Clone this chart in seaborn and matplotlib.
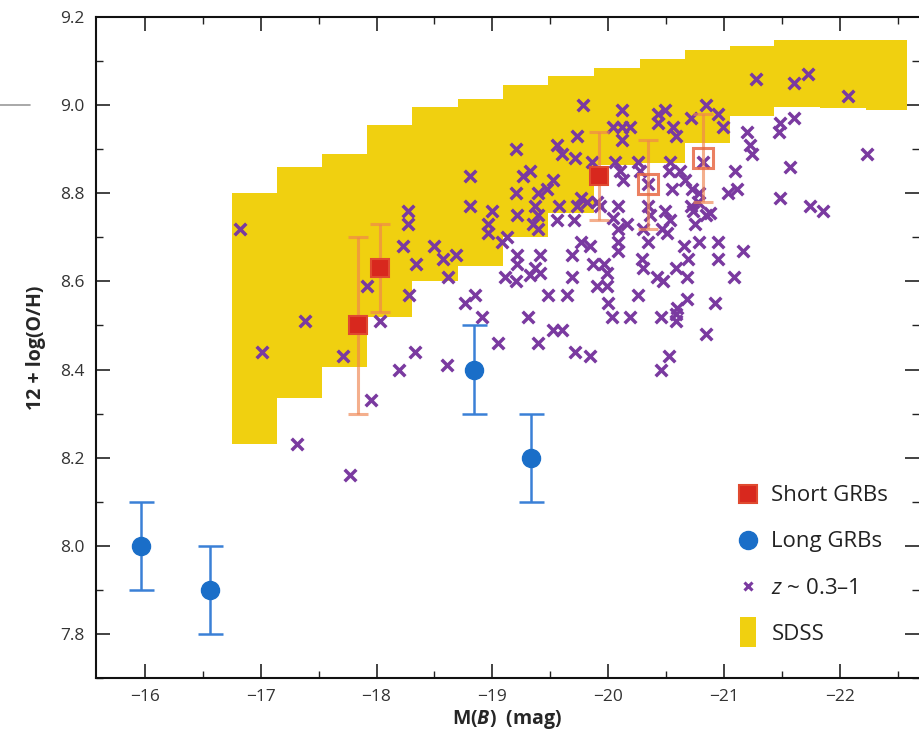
import numpy as np
import pandas as pd
import matplotlib
matplotlib.use("Agg")
import matplotlib.pyplot as plt
from matplotlib.lines import Line2D
from matplotlib.ticker import MultipleLocator, FormatStrFormatter, FuncFormatter
import seaborn as sns

# ---------------- data ----------------
# SDSS locus: step bins in M(B) with lower / upper metallicity of the band
sdss_edges = [-16.75, -17.14, -17.53, -17.92, -18.31, -18.70, -19.09, -19.48,
              -19.88, -20.27, -20.66, -21.05, -21.43, -21.83, -22.22, -22.58]
sdss_upper = [8.80, 8.86, 8.89, 8.955, 8.995, 9.015, 9.045, 9.065,
              9.085, 9.105, 9.125, 9.135, 9.148, 9.148, 9.148]
sdss_lower = [8.23, 8.335, 8.405, 8.52, 8.60, 8.635, 8.70, 8.755,
              8.865, 8.868, 8.915, 8.975, 8.995, 8.993, 8.99]

# field galaxies at z ~ 0.3-1
field_mb = [
    -16.82, -17.01, -17.31, -17.38, -17.71, -17.77, -17.92, -18.03, -17.95, -18.23,
    -18.27, -18.27, -18.28, -18.34, -18.33, -18.19, -19.78, -19.73, -19.56, -19.60,
    -19.71, -19.20, -19.86, -18.81, -19.26, -19.32, -19.52, -19.47, -19.39, -19.20,
    -18.81, -19.00, -19.21, -19.37, -19.39, -19.57, -19.73, -19.76, -19.82, -19.56,
    -19.70, -18.96, -18.96, -19.08, -19.13, -19.39, -19.35, -19.76, -19.84, -18.50,
    -18.69, -18.57, -19.21, -19.41, -19.69, -18.62, -19.21, -19.37, -19.41, -19.32,
    -19.87, -19.90, -19.11, -19.20, -19.69, -19.48, -19.64, -18.85, -18.76, -18.91,
    -19.31, -19.52, -19.60, -19.05, -19.39, -19.71, -19.84, -18.61, -20.12, -20.43,
    -20.49, -20.43, -20.71, -20.84, -20.95, -20.04, -20.12, -20.19, -20.12, -20.56,
    -20.58, -20.99, -21.20, -21.22, -21.24, -20.82, -20.06, -20.10, -20.13, -20.26,
    -20.27, -20.53, -20.52, -20.62, -20.66, -20.34, -20.55, -20.72, -20.78, -21.09,
    -21.03, -21.11, -19.90, -19.93, -20.08, -20.34, -20.36, -20.49, -20.53, -20.71,
    -20.73, -20.77, -20.84, -20.88, -20.04, -20.16, -20.08, -20.30, -20.46, -20.75,
    -20.08, -20.08, -20.34, -20.51, -20.65, -20.78, -20.95, -21.16, -20.29, -20.30,
    -19.96, -19.99, -20.69, -20.58, -20.95, -20.42, -20.47, -20.68, -21.08, -19.99,
    -20.26, -20.00, -20.68, -20.59, -20.92, -20.03, -20.19, -20.45, -20.58, -20.58,
    -20.84, -20.52, -20.45, -21.27, -21.60, -21.72, -22.07, -21.48, -21.47, -21.60,
    -21.57, -22.23, -21.48, -21.74, -21.85,
]
field_oh = [
    8.72, 8.44, 8.23, 8.51, 8.43, 8.16, 8.59, 8.51, 8.33, 8.68,
    8.76, 8.73, 8.57, 8.64, 8.44, 8.40, 9.00, 8.93, 8.91, 8.89,
    8.88, 8.90, 8.87, 8.84, 8.84, 8.85, 8.83, 8.81, 8.80, 8.80,
    8.77, 8.76, 8.75, 8.77, 8.75, 8.77, 8.77, 8.79, 8.78, 8.74,
    8.74, 8.73, 8.71, 8.69, 8.70, 8.72, 8.73, 8.69, 8.68, 8.68,
    8.66, 8.65, 8.66, 8.66, 8.66, 8.61, 8.64, 8.63, 8.62, 8.615,
    8.64, 8.59, 8.61, 8.60, 8.61, 8.57, 8.57, 8.57, 8.55, 8.52,
    8.52, 8.49, 8.49, 8.46, 8.46, 8.44, 8.43, 8.41, 8.99, 8.98,
    8.99, 8.96, 8.97, 9.00, 8.98, 8.95, 8.95, 8.95, 8.92, 8.95,
    8.93, 8.95, 8.94, 8.91, 8.89, 8.87, 8.87, 8.85, 8.83, 8.87,
    8.85, 8.87, 8.85, 8.85, 8.83, 8.82, 8.81, 8.81, 8.80, 8.85,
    8.80, 8.81, 8.78, 8.77, 8.77, 8.77, 8.75, 8.76, 8.74, 8.77,
    8.76, 8.78, 8.75, 8.755, 8.745, 8.73, 8.72, 8.72, 8.72, 8.73,
    8.69, 8.67, 8.69, 8.71, 8.68, 8.69, 8.69, 8.67, 8.65, 8.63,
    8.64, 8.62, 8.65, 8.63, 8.65, 8.61, 8.60, 8.61, 8.61, 8.59,
    8.57, 8.55, 8.56, 8.54, 8.55, 8.52, 8.52, 8.52, 8.525, 8.51,
    8.48, 8.43, 8.40, 9.06, 9.05, 9.07, 9.02, 8.96, 8.94, 8.97,
    8.86, 8.89, 8.79, 8.77, 8.76,
]

# short GRB hosts (last two drawn as open symbols)
short_mb = [-17.84, -18.03, -19.92, -20.34, -20.82]
short_oh = [8.50, 8.63, 8.84, 8.82, 8.88]
short_err = [0.20, 0.10, 0.10, 0.10, 0.10]
short_open = [False, False, False, True, True]

# long GRB hosts
long_mb = [-15.97, -16.56, -18.84, -19.33]
long_oh = [8.00, 7.90, 8.40, 8.20]
long_err = [0.10, 0.10, 0.10, 0.10]

legend_labels = ["Short GRBs", "Long GRBs", "$z$ ~ 0.3\u20131", "SDSS"]

# ---------------- style ----------------
sns.set_theme(style="ticks")
plt.rcParams["font.family"] = ["Open Sans", "DejaVu Sans"]
plt.rcParams["mathtext.fontset"] = "custom"
plt.rcParams["mathtext.rm"] = "Open Sans"
plt.rcParams["mathtext.it"] = "Open Sans:italic"
plt.rcParams["mathtext.bf"] = "Open Sans:bold"
plt.rcParams["mathtext.bfit"] = "Open Sans:bold:italic"

YELLOW = "#f0d010"
PURPLE = "#7a3aa0"
RED = "#d8281e"
BLUE = "#1a6ec8"
ORANGE = "#ef8450"

fig = plt.figure(figsize=(9.2, 7.42), dpi=100)
ax = fig.add_axes([96 / 920, 64 / 742, 823 / 920, 661 / 742])

# SDSS band
upper_ext = sdss_upper + [sdss_upper[-1]]
lower_ext = sdss_lower + [sdss_lower[-1]]
ax.fill_between(sdss_edges, lower_ext, upper_ext, step="post",
                color=YELLOW, lw=0, zorder=1)

# field galaxies
field = pd.DataFrame({"MB": field_mb, "OH": field_oh})
sns.scatterplot(data=field, x="MB", y="OH", marker="x", s=70, linewidth=2.5,
                color=PURPLE, ax=ax, legend=False, zorder=3)

# short GRB error bars + symbols
for mb, oh, er, op in zip(short_mb, short_oh, short_err, short_open):
    ax.errorbar(mb, oh, yerr=er, fmt="none", ecolor=ORANGE, alpha=0.65,
                elinewidth=2.2, capsize=7, capthick=2.2, zorder=4)
    if op:
        ax.plot(mb, oh, marker="s", ms=14, mfc="none", mec="#e86a45",
                mew=2.2, alpha=0.85, ls="none", zorder=5)
    else:
        ax.plot(mb, oh, marker="s", ms=13, mfc=RED, mec="#e04a30",
                mew=1.5, ls="none", zorder=5)

# long GRB hosts
ax.errorbar(long_mb, long_oh, yerr=long_err, fmt="o", ms=13, color=BLUE,
            ecolor="#3a80d6", elinewidth=1.8, capsize=9, capthick=1.8,
            zorder=5)

# axes
ax.set_xlim(-15.58, -22.68)
ax.set_ylim(7.7, 9.2)
ax.xaxis.set_major_locator(MultipleLocator(1))
ax.xaxis.set_minor_locator(MultipleLocator(0.5))
ax.yaxis.set_major_locator(MultipleLocator(0.2))
ax.yaxis.set_minor_locator(MultipleLocator(0.1))
ax.yaxis.set_major_formatter(FormatStrFormatter("%.1f"))
ax.xaxis.set_major_formatter(FuncFormatter(lambda v, p: f"\u2212{abs(v):.0f}"))
ax.tick_params(which="both", direction="in", top=True, right=True,
               color="#222222", labelcolor="#333333", labelsize=12.5)
ax.tick_params(which="major", length=10, width=1.2, pad=8)
ax.tick_params(which="minor", length=5, width=1.0)
for sp in ax.spines.values():
    sp.set_linewidth(1.5)
    sp.set_color("#111111")
ax.spines["right"].set_visible(False)

ax.set_xlabel(r"M($\mathbfit{B}$)  (mag)", fontsize=14, fontweight="bold",
              labelpad=2)
ax.set_ylabel("12 + log(O/H)", fontsize=14, fontweight="bold", labelpad=10)

# legend
sdss_marker = [(-0.5, -1.0), (0.5, -1.0), (0.5, 1.0), (-0.5, 1.0), (-0.5, -1.0)]
handles = [
    Line2D([], [], ls="none", marker="s", ms=13, mfc=RED, mec="#e04a30", mew=1.5),
    Line2D([], [], ls="none", marker="o", ms=13, color=BLUE),
    Line2D([], [], ls="none", marker="x", ms=6, mew=2.2, color=PURPLE),
    Line2D([], [], ls="none", marker=sdss_marker, ms=22, color=YELLOW, mew=0),
]
leg = ax.legend(handles, legend_labels, loc="upper left",
                bbox_to_anchor=(0.768, 0.305), frameon=False, fontsize=16,
                handlelength=1.0, handletextpad=0.55, labelspacing=1.13,
                borderaxespad=0)
for t in leg.get_texts():
    t.set_color("#222222")

# thin rule in the left margin
fig.add_artist(Line2D([0, 30 / 920], [1 - 105 / 742, 1 - 105 / 742],
                      color="#9a9a9a", lw=1.2, transform=fig.transFigure))

fig.savefig("out.png", dpi=100)
